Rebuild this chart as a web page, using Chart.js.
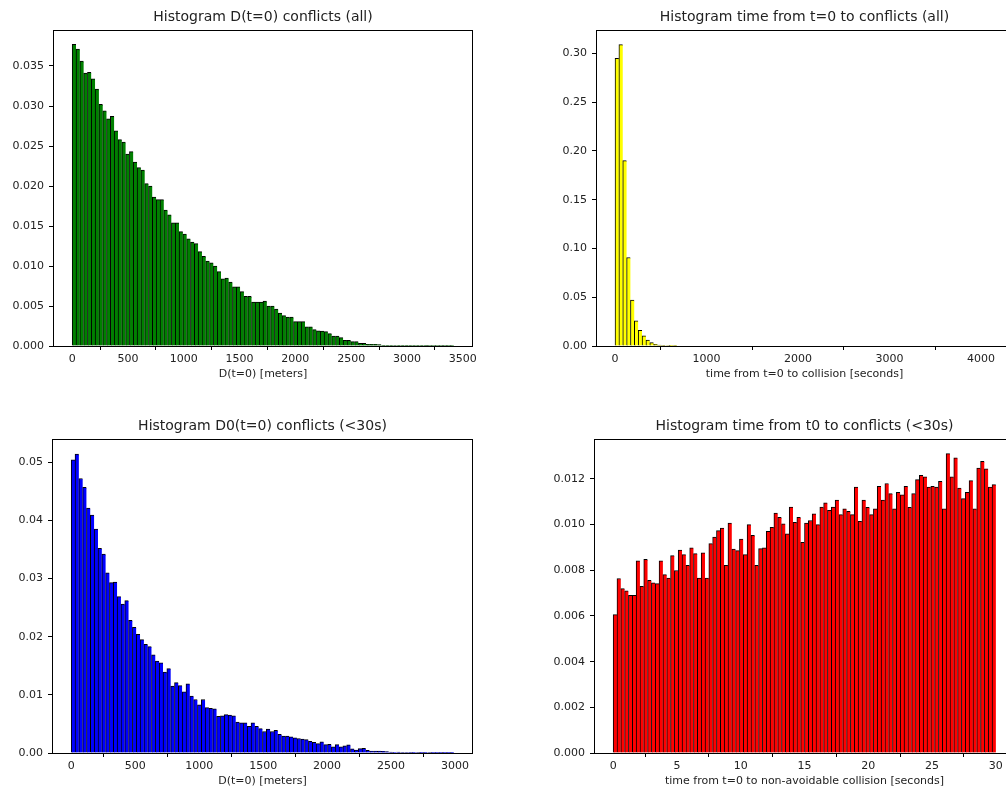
<!DOCTYPE html>
<html>
<head>
<meta charset="utf-8">
<script src="https://cdn.jsdelivr.net/npm/chart.js@4.4.1/dist/chart.umd.min.js"></script>
<style>
  html, body { margin: 0; padding: 0; background: #fff; overflow: hidden; }
  #page { position: relative; width: 1006px; height: 790px; overflow: hidden; }
  canvas { position: absolute; }
</style>
</head>
<body>
<div id="page">
  <canvas id="dAll"  width="490" height="383" style="left:0;top:0"></canvas>
  <canvas id="tAll"  width="490" height="383" style="left:540px;top:0"></canvas>
  <canvas id="d30"   width="490" height="390" style="left:0;top:400px"></canvas>
  <canvas id="t30"   width="490" height="390" style="left:540px;top:400px"></canvas>
</div>
<script>
/* Four normalised histograms (2x2). Bar heights, in units of 1e-3. */

// ---- top-left: D(t=0), all conflicts — 100 bins of ~34.2 m
const D_ALL_BIN = 34.2;
const D_ALL = [
  37.7, 37.1, 35.6, 34.1, 34.2, 33.4, 32.1, 30.2, 29.4, 28.4,
  28.7, 26.9, 25.8, 25.5, 24.0, 24.3, 23.0, 22.3, 22.0, 20.3,
  20.0, 18.6, 18.3, 18.3, 17.0, 16.4, 15.4, 15.4, 14.3, 14.0,
  13.4, 13.0, 12.8, 11.8, 11.2, 10.6, 10.4, 10.0, 9.3, 8.4,
  8.5, 8.0, 7.4, 7.4, 6.8, 6.2, 6.2, 5.5, 5.5, 5.5,
  5.6, 5.0, 5.0, 4.6, 4.1, 3.8, 3.6, 3.6, 3.05, 3.05,
  3.05, 2.4, 2.4, 2.05, 1.9, 1.85, 1.8, 1.55, 1.25, 1.25,
  1.05, 0.7, 0.7, 0.55, 0.55, 0.33, 0.33, 0.2, 0.2, 0.2,
  0.18, 0.08, 0.08, 0.08, 0.07, 0.03, 0.03, 0.03, 0.02, 0.02,
  0.02, 0.02, 0.02, 0.01, 0.01, 0.01, 0.01, 0.01, 0.01, 0.01
];
const D_ALL_XTICKS = [0, 500, 1000, 1500, 2000, 2500, 3000, 3500];
const D_ALL_YTICKS = [0, 0.005, 0.010, 0.015, 0.020, 0.025, 0.030, 0.035];

// ---- top-right: time from t=0 to conflict, all — bins of ~42 s (tail is empty)
const T_ALL_BIN = 42.2;
const T_ALL = [295, 309, 190, 90.7, 47, 25.7, 16, 10.3, 6, 3.5, 1.8, 1.0, 0.6, 0.4, 0.3, 0.2];
const T_ALL_XTICKS = [0, 1000, 2000, 3000, 4000];
const T_ALL_YTICKS = [0, 0.05, 0.10, 0.15, 0.20, 0.25, 0.30];

// ---- bottom-left: D0(t=0), conflicts < 30 s — 100 bins of ~29.9 m
const D_30_BIN = 29.9;
const D_30 = [
  50.4, 51.4, 47.2, 45.7, 42.1, 40.9, 38.5, 35.2, 34.2, 31.0,
  29.3, 29.4, 26.9, 25.6, 26.2, 22.8, 21.6, 20.4, 19.5, 18.7,
  18.3, 16.9, 15.8, 15.5, 13.9, 14.5, 11.5, 12.1, 11.6, 10.5,
  11.9, 9.8, 9.2, 8.3, 9.2, 7.8, 7.7, 7.6, 6.3, 6.4,
  6.6, 6.5, 6.4, 5.3, 5.2, 5.2, 4.6, 5.2, 4.6, 4.2,
  3.7, 4.1, 3.7, 3.9, 3.2, 2.9, 2.9, 2.8, 2.6, 2.5,
  2.4, 2.3, 2.0, 1.85, 1.6, 1.9, 1.45, 1.5, 1.05, 1.45,
  1.05, 1.25, 1.4, 0.7, 0.5, 0.75, 0.8, 0.45, 0.35, 0.35,
  0.35, 0.3, 0.25, 0.15, 0.06, 0.15, 0.1, 0.1, 0.05, 0.03,
  0.1, 0.03, 0.02, 0.1, 0.02, 0.02, 0.02, 0.02, 0.02, 0.02
];
const D_30_XTICKS = [0, 500, 1000, 1500, 2000, 2500, 3000];
const D_30_YTICKS = [0, 0.01, 0.02, 0.03, 0.04, 0.05];

// ---- bottom-right: time from t0 to non-avoidable collision, < 30 s — 100 bins of 0.3 s
const T_30_BIN = 0.3;
const T_30 = [
  6.06, 7.64, 7.2, 7.1, 6.9, 6.9, 8.42, 7.3, 8.48, 7.56,
  7.45, 7.42, 8.42, 7.81, 7.66, 8.64, 7.99, 8.89, 8.69, 8.22,
  8.98, 8.73, 7.66, 8.77, 7.66, 9.17, 9.45, 9.74, 9.85, 8.22,
  10.07, 8.93, 8.86, 9.37, 8.69, 10.0, 9.53, 8.22, 8.95, 8.98,
  9.71, 9.88, 10.51, 10.32, 10.04, 9.6, 10.77, 10.1, 10.32, 9.23,
  10.07, 10.18, 10.47, 10.0, 10.77, 10.95, 10.63, 10.77, 11.07, 10.44,
  10.69, 10.58, 10.44, 11.64, 10.15, 11.07, 10.76, 10.44, 10.69, 11.68,
  11.07, 11.8, 11.36, 10.69, 11.42, 11.31, 11.68, 10.76, 11.36, 11.97,
  12.16, 12.09, 11.65, 11.68, 11.65, 11.9, 10.69, 13.11, 12.09, 12.92,
  11.6, 11.14, 11.42, 11.93, 10.69, 12.48, 12.77, 12.44, 11.64, 11.75
];
const T_30_XTICKS = [0, 5, 10, 15, 20, 25, 30];
const T_30_YTICKS = [0, 0.002, 0.004, 0.006, 0.008, 0.010, 0.012];

const FONT = "'DejaVu Sans', sans-serif";
const TXT = "#222";

// bin centres from index; heights given in 1e-3
const toBars = (vals, bin) => vals.map((v, i) => ({ x: (i + 0.5) * bin, y: v / 1000 }));

// title above the axes + a full box frame like matplotlib's four spines
const frameAndTitle = text => ({
  id: "frameAndTitle",
  afterDraw(chart) {
    const { ctx, chartArea: a } = chart;
    ctx.save();
    ctx.strokeStyle = "#000";
    ctx.lineWidth = 1;
    ctx.strokeRect(a.left + 0.5, a.top + 0.5, a.right - a.left - 1, a.bottom - a.top);
    ctx.font = `14px ${FONT}`;
    ctx.fillStyle = TXT;
    ctx.textAlign = "center";
    ctx.textBaseline = "middle";
    ctx.fillText(text, (a.left + a.right) / 2, a.top - 13);
    ctx.restore();
  },
});

function histogram(id, c) {
  const tickFont = { family: FONT, size: 11 };
  return new Chart(document.getElementById(id), {
    type: "bar",
    data: {
      datasets: [{
        data: toBars(c.values, c.bin),
        backgroundColor: c.color,
        borderColor: "#000",
        borderWidth: { top: 1, left: 1, right: 0, bottom: 0 },
        borderSkipped: false,
        barPercentage: 1,
        categoryPercentage: 1,
      }],
    },
    options: {
      responsive: false, animation: false, devicePixelRatio: 1,
      layout: { padding: { left: 0, top: c.top, right: c.right, bottom: 0 } },
      plugins: { legend: { display: false }, tooltip: { enabled: false } },
      scales: {
        x: {
          type: "linear", min: c.xMin, max: c.xMax, offset: false,
          grid: { drawOnChartArea: false, drawTicks: true, tickLength: 4, color: "#000" },
          border: { display: false },
          ticks: { font: tickFont, color: TXT, padding: 3, maxRotation: 0, callback: v => String(v) },
          afterBuildTicks: ax => { ax.ticks = c.xTicks.map(v => ({ value: v })); },
          afterFit: s => { s.height = 37; },
          title: { display: true, text: c.xLabel, font: tickFont, color: TXT, padding: { top: 0, bottom: 2 } },
        },
        y: {
          min: 0, max: c.yMax,
          grid: { drawOnChartArea: false, drawTicks: true, tickLength: 4, color: "#000" },
          border: { display: false },
          ticks: { font: tickFont, color: TXT, padding: 5, callback: v => v.toFixed(c.dec) },
          afterBuildTicks: ax => { ax.ticks = c.yTicks.map(v => ({ value: v })); },
          afterFit: s => { s.width = c.yWidth; },
        },
      },
    },
    plugins: [frameAndTitle(c.title)],
  });
}

histogram("dAll", {
  title: "Histogram D(t=0) conflicts (all)", xLabel: "D(t=0) [meters]",
  values: D_ALL, bin: D_ALL_BIN, color: "#008000",
  xMin: -172, xMax: 3592, xTicks: D_ALL_XTICKS,
  yMax: 0.0395, yTicks: D_ALL_YTICKS, dec: 3,
  top: 30, right: 17, yWidth: 53,
});

histogram("tAll", {
  title: "Histogram time from t=0 to conflicts (all)", xLabel: "time from t=0 to collision [seconds]",
  values: T_ALL, bin: T_ALL_BIN, color: "#ffff00",
  xMin: -208, xMax: 4350, xTicks: T_ALL_XTICKS,
  yMax: 0.324, yTicks: T_ALL_YTICKS, dec: 2,
  top: 30, right: 17, yWidth: 56,
});

histogram("d30", {
  title: "Histogram D0(t=0) conflicts (<30s)", xLabel: "D(t=0) [meters]",
  values: D_30, bin: D_30_BIN, color: "#0000ff",
  xMin: -150, xMax: 3140, xTicks: D_30_XTICKS,
  yMax: 0.054, yTicks: D_30_YTICKS, dec: 2,
  top: 39, right: 17, yWidth: 52,
});

histogram("t30", {
  title: "Histogram time from t0 to conflicts (<30s)", xLabel: "time from t=0 to non-avoidable collision [seconds]",
  values: T_30, bin: T_30_BIN, color: "#ff0000",
  xMin: -1.5, xMax: 31.5, xTicks: T_30_XTICKS,
  yMax: 0.01375, yTicks: T_30_YTICKS, dec: 3,
  top: 39, right: 15, yWidth: 54,
});
</script>
</body>
</html>
